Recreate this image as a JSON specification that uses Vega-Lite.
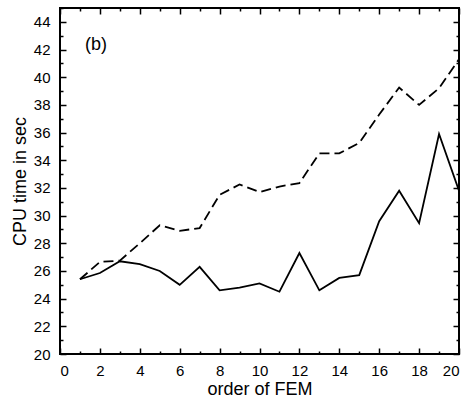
{
  "$schema": "https://vega.github.io/schema/vega-lite/v6.json",
  "width": 399,
  "height": 346,
  "autosize": "none",
  "padding": {"left": 60, "top": 8, "right": 5, "bottom": 43},
  "background": "white",
  "config": {
    "view": {"stroke": "black", "strokeWidth": 2},
    "font": "Liberation Sans",
    "axis": {
      "grid": false,
      "domain": false,
      "tickColor": "black",
      "tickWidth": 1.5,
      "labelColor": "black",
      "labelFont": "Liberation Sans",
      "labelFontSize": 15,
      "titleFont": "Liberation Sans",
      "titleFontSize": 18,
      "titleFontWeight": "normal",
      "titleColor": "black"
    }
  },
  "data": {
    "values": [
      {"order": 1, "time": 25.4, "method": "A"},
      {"order": 2, "time": 25.85, "method": "A"},
      {"order": 3, "time": 26.7, "method": "A"},
      {"order": 4, "time": 26.5, "method": "A"},
      {"order": 5, "time": 26.0, "method": "A"},
      {"order": 6, "time": 25.0, "method": "A"},
      {"order": 7, "time": 26.3, "method": "A"},
      {"order": 8, "time": 24.6, "method": "A"},
      {"order": 9, "time": 24.8, "method": "A"},
      {"order": 10, "time": 25.1, "method": "A"},
      {"order": 11, "time": 24.5, "method": "A"},
      {"order": 12, "time": 27.3, "method": "A"},
      {"order": 13, "time": 24.6, "method": "A"},
      {"order": 14, "time": 25.5, "method": "A"},
      {"order": 15, "time": 25.7, "method": "A"},
      {"order": 16, "time": 29.6, "method": "A"},
      {"order": 17, "time": 31.8, "method": "A"},
      {"order": 18, "time": 29.45, "method": "A"},
      {"order": 19, "time": 35.9, "method": "A"},
      {"order": 20, "time": 31.8, "method": "A"},
      {"order": 1, "time": 25.4, "method": "B"},
      {"order": 2, "time": 26.65, "method": "B"},
      {"order": 3, "time": 26.75, "method": "B"},
      {"order": 4, "time": 28.0, "method": "B"},
      {"order": 5, "time": 29.3, "method": "B"},
      {"order": 6, "time": 28.9, "method": "B"},
      {"order": 7, "time": 29.1, "method": "B"},
      {"order": 8, "time": 31.5, "method": "B"},
      {"order": 9, "time": 32.25, "method": "B"},
      {"order": 10, "time": 31.7, "method": "B"},
      {"order": 11, "time": 32.1, "method": "B"},
      {"order": 12, "time": 32.35, "method": "B"},
      {"order": 13, "time": 34.5, "method": "B"},
      {"order": 14, "time": 34.5, "method": "B"},
      {"order": 15, "time": 35.25, "method": "B"},
      {"order": 16, "time": 37.3, "method": "B"},
      {"order": 17, "time": 39.25, "method": "B"},
      {"order": 18, "time": 38.0, "method": "B"},
      {"order": 19, "time": 39.2, "method": "B"},
      {"order": 20, "time": 41.3, "method": "B"}
    ]
  },
  "layer": [
    {
      "transform": [{"filter": "datum.method === 'A'"}],
      "mark": {"type": "line", "color": "black", "strokeWidth": 1.8, "clip": true},
      "encoding": {
        "x": {"field": "order", "type": "quantitative",
          "scale": {"domain": [0, 20], "nice": false, "zero": false},
          "axis": {"orient": "bottom", "title": "order of FEM", "values": [0,2,4,6,8,10,12,14,16,18,20], "tickSize": -6, "labelPadding": 15, "titlePadding": 2}},
        "y": {"field": "time", "type": "quantitative",
          "scale": {"domain": [20, 45], "nice": false, "zero": false},
          "axis": {"orient": "left", "title": "CPU time in sec", "values": [20,22,24,26,28,30,32,34,36,38,40,42,44], "tickSize": -6, "labelPadding": 16, "titlePadding": 4}}
      }
    },
    {
      "transform": [{"filter": "datum.method === 'B'"}],
      "mark": {"type": "line", "color": "black", "strokeWidth": 1.8, "strokeDash": [10, 5], "clip": true},
      "encoding": {
        "x": {"field": "order", "type": "quantitative",
          "axis": {"orient": "top", "title": null, "labels": false, "values": [0,2,4,6,8,10,12,14,16,18,20], "tickSize": -6}},
        "y": {"field": "time", "type": "quantitative",
          "axis": {"orient": "right", "title": null, "labels": false, "values": [20,22,24,26,28,30,32,34,36,38,40,42,44], "tickSize": -6}}
      }
    },
    {
      "transform": [{"filter": "datum.method === 'A'"}],
      "mark": {"type": "line", "color": "black", "strokeOpacity": 0},
      "encoding": {
        "x": {"field": "order", "type": "quantitative",
          "axis": {"orient": "bottom", "title": null, "labels": false, "values": [1,3,5,7,9,11,13,15,17,19], "tickSize": -3}},
        "y": {"field": "time", "type": "quantitative",
          "axis": {"orient": "left", "title": null, "labels": false, "values": [21,23,25,27,29,31,33,35,37,39,41,43,45], "tickSize": -3}}
      }
    },
    {
      "transform": [{"filter": "datum.method === 'A'"}],
      "mark": {"type": "line", "color": "black", "strokeOpacity": 0},
      "encoding": {
        "x": {"field": "order", "type": "quantitative",
          "axis": {"orient": "top", "title": null, "labels": false, "values": [1,3,5,7,9,11,13,15,17,19], "tickSize": -3}},
        "y": {"field": "time", "type": "quantitative",
          "axis": {"orient": "right", "title": null, "labels": false, "values": [21,23,25,27,29,31,33,35,37,39,41,43], "tickSize": -3}}
      }
    },
    {
      "data": {"values": [{"label": "(b)"}]},
      "mark": {"type": "text", "align": "left", "baseline": "middle", "fontSize": 18, "font": "Liberation Sans", "fill": "black"},
      "encoding": {
        "text": {"field": "label"},
        "x": {"datum": 1.25, "type": "quantitative", "axis": null},
        "y": {"datum": 42.3, "type": "quantitative", "axis": null}
      }
    }
  ],
  "resolve": {"axis": {"x": "independent", "y": "independent"}}
}
